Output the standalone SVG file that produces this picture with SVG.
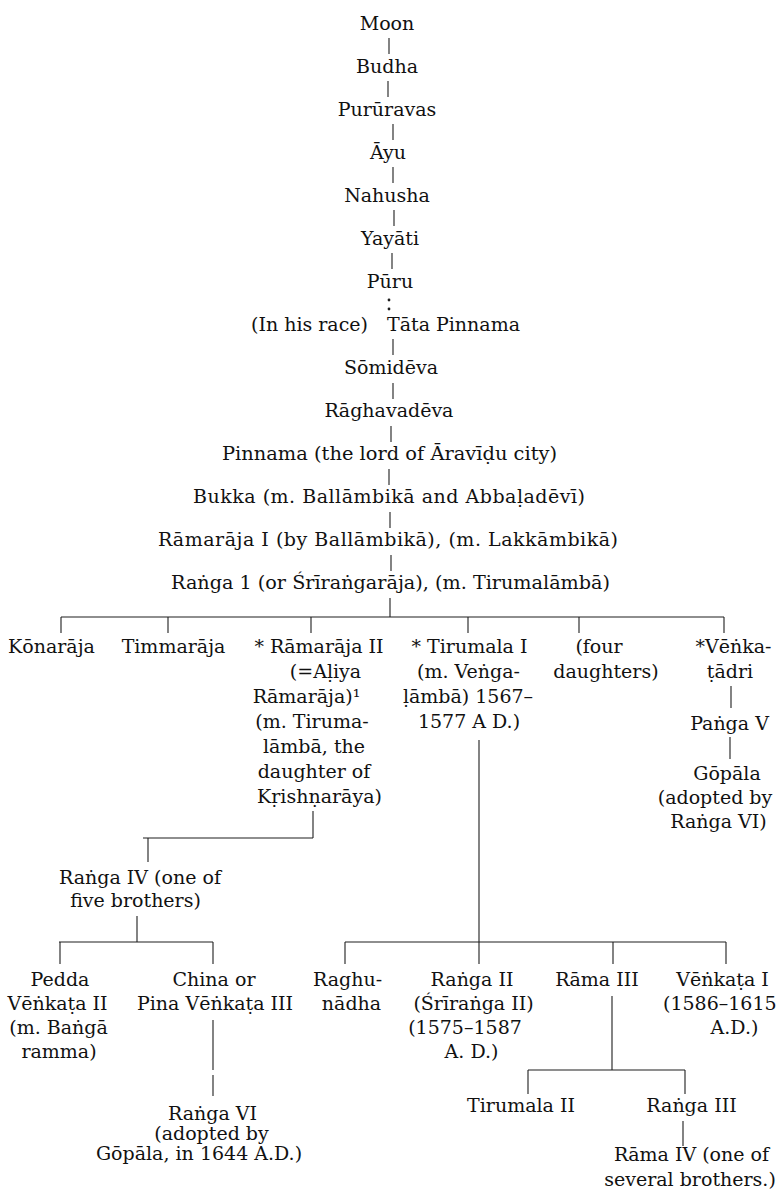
<svg xmlns="http://www.w3.org/2000/svg" width="781" height="1193" viewBox="0 0 781 1193">
<style>
text{font-family:"DejaVu Serif","Liberation Serif",serif;font-size:19px;fill:#111}
.m{text-anchor:middle}
.c line{stroke:#1e1e1e;stroke-width:1.1}
.dot{fill:#1e1e1e}
</style>
<rect width="781" height="1193" fill="#fff"/>
<g id="connectors" class="c">
<line x1="389" y1="38" x2="389" y2="54"/>
<line x1="388" y1="81" x2="388" y2="97"/>
<line x1="393" y1="124" x2="393" y2="140"/>
<line x1="393" y1="167" x2="393" y2="183"/>
<line x1="394" y1="210" x2="394" y2="226"/>
<line x1="392" y1="253" x2="392" y2="269"/>
<circle class="dot" cx="389" cy="300" r="1.4"/>
<circle class="dot" cx="389" cy="309" r="1.4"/>
<line x1="393" y1="339" x2="393" y2="355"/>
<line x1="393" y1="383" x2="393" y2="399"/>
<line x1="391" y1="426" x2="391" y2="442"/>
<line x1="389" y1="469" x2="389" y2="485"/>
<line x1="390" y1="512" x2="390" y2="528"/>
<line x1="391" y1="555" x2="391" y2="571"/>
<line x1="390" y1="598" x2="390" y2="617"/>
<line x1="61" y1="617" x2="724" y2="617"/>
<line x1="61" y1="617" x2="61" y2="633"/>
<line x1="168" y1="617" x2="168" y2="633"/>
<line x1="311" y1="617" x2="311" y2="633"/>
<line x1="468" y1="617" x2="468" y2="633"/>
<line x1="579" y1="617" x2="579" y2="633"/>
<line x1="724" y1="617" x2="724" y2="633"/>
<line x1="731" y1="686" x2="731" y2="708"/>
<line x1="730" y1="737" x2="730" y2="759"/>
<line x1="313" y1="811" x2="313" y2="838"/>
<line x1="143" y1="838" x2="313" y2="838"/>
<line x1="148" y1="838" x2="148" y2="862"/>
<line x1="137" y1="916" x2="137" y2="942"/>
<line x1="59" y1="942" x2="213" y2="942"/>
<line x1="60" y1="942" x2="60" y2="964"/>
<line x1="213" y1="942" x2="213" y2="964"/>
<line x1="479" y1="740" x2="479" y2="942"/>
<line x1="345" y1="942" x2="726" y2="942"/>
<line x1="345" y1="942" x2="345" y2="964"/>
<line x1="479" y1="942" x2="479" y2="964"/>
<line x1="613" y1="942" x2="613" y2="964"/>
<line x1="726" y1="942" x2="726" y2="964"/>
<line x1="612" y1="996" x2="612" y2="1070"/>
<line x1="528" y1="1070" x2="685" y2="1070"/>
<line x1="528" y1="1070" x2="528" y2="1094"/>
<line x1="685" y1="1070" x2="685" y2="1094"/>
<line x1="683" y1="1121" x2="683" y2="1146"/>
<line x1="213" y1="1020" x2="213" y2="1070"/>
<line x1="213" y1="1075" x2="213" y2="1096"/>
</g>
<g id="moon"><text class="m" x="387" y="30">Moon</text></g>
<g id="budha"><text class="m" x="387" y="73">Budha</text></g>
<g id="pururavas"><text class="m" x="387" y="116">Purūravas</text></g>
<g id="ayu"><text class="m" x="388" y="159">Āyu</text></g>
<g id="nahusha"><text class="m" x="387" y="202">Nahusha</text></g>
<g id="yayati"><text class="m" x="390" y="245">Yayāti</text></g>
<g id="puru"><text class="m" x="390" y="288">Pūru</text></g>
<g id="tata-pinnama"><text x="368" y="331" text-anchor="end">(In his race)</text><text x="387" y="331">Tāta Pinnama</text></g>
<g id="somideva"><text class="m" x="391" y="374">Sōmidēva</text></g>
<g id="raghavadeva"><text class="m" x="389" y="417">Rāghavadēva</text></g>
<g id="pinnama"><text class="m" x="389.5" y="460" textLength="335" lengthAdjust="spacingAndGlyphs">Pinnama (the lord of Āravīḍu city)</text></g>
<g id="bukka"><text class="m" x="389" y="503" textLength="392" lengthAdjust="spacing">Bukka (m. Ballāmbikā and Abbaḷadēvī)</text></g>
<g id="ramaraja1"><text class="m" x="388" y="546" textLength="460" lengthAdjust="spacing">Rāmarāja I (by Ballāmbikā), (m. Lakkāmbikā)</text></g>
<g id="ranga1"><text class="m" x="390.5" y="589" textLength="439" lengthAdjust="spacingAndGlyphs">Raṅga 1 (or Śrīraṅgarāja), (m. Tirumalāmbā)</text></g>
<g id="konaraja"><text class="m" x="51.5" y="653">Kōnarāja</text></g>
<g id="timmaraja"><text class="m" x="173.5" y="653">Timmarāja</text></g>
<g id="ramaraja2">
<text class="m" x="319" y="653">* Rāmarāja II</text>
<text class="m" x="325.5" y="678">(=Aḷiya</text>
<text class="m" x="306.5" y="703">Rāmarāja)¹</text>
<text class="m" x="312" y="728">(m. Tiruma-</text>
<text class="m" x="314" y="753">lāmbā, the</text>
<text class="m" x="314" y="778">daughter of</text>
<text class="m" x="319.5" y="803">Kṛishṇarāya)</text>
</g>
<g id="tirumala1">
<text class="m" x="469.5" y="653">* Tirumala I</text>
<text class="m" x="468.5" y="678">(m. Veṅga-</text>
<text class="m" x="468" y="703">ḷāmbā) 1567–</text>
<text class="m" x="469" y="728">1577 A D.)</text>
</g>
<g id="four-daughters">
<text class="m" x="599" y="653">(four</text>
<text class="m" x="606" y="678">daughters)</text>
</g>
<g id="venkatadri">
<text class="m" x="733.5" y="653">*Vēṅka-</text>
<text class="m" x="730" y="678">ṭādri</text>
</g>
<g id="panga5"><text class="m" x="729.5" y="730">Paṅga V</text></g>
<g id="gopala"><text class="m" x="727" y="780">Gōpāla</text><text class="m" x="715" y="804">(adopted by</text><text class="m" x="718.5" y="828">Raṅga VI)</text></g>
<g id="ranga4"><text class="m" x="140" y="884">Raṅga IV (one of</text><text class="m" x="135.5" y="907">five brothers)</text></g>
<g id="pedda-venkata2">
<text class="m" x="60" y="986">Pedda</text>
<text class="m" x="57.5" y="1010">Vēṅkaṭa II</text>
<text class="m" x="58.5" y="1034">(m. Baṅgā</text>
<text class="m" x="59" y="1058">ramma)</text>
</g>
<g id="pina-venkata3">
<text class="m" x="214" y="986">China  or</text>
<text class="m" x="215" y="1010">Pina Vēṅkaṭa III</text>
</g>
<g id="ranga6">
<text class="m" x="212.5" y="1120">Raṅga VI</text>
<text class="m" x="211.5" y="1140">(adopted by</text>
<text class="m" x="199" y="1160">Gōpāla, in 1644 A.D.)</text>
</g>
<g id="raghunadha"><text class="m" x="347.5" y="986">Raghu-</text><text class="m" x="351.5" y="1010">nādha</text></g>
<g id="ranga2">
<text class="m" x="472" y="986">Raṅga II</text>
<text class="m" x="473.5" y="1010">(Śrīraṅga II)</text>
<text class="m" x="465" y="1034">(1575–1587</text>
<text class="m" x="471.5" y="1058">A. D.)</text>
</g>
<g id="rama3"><text class="m" x="597" y="986">Rāma III</text></g>
<g id="venkata1">
<text class="m" x="722.5" y="986">Vēṅkaṭa I</text>
<text x="663" y="1010">(1586–1615</text>
<text class="m" x="734.5" y="1034">A.D.)</text>
</g>
<g id="tirumala2"><text class="m" x="521" y="1112">Tirumala II</text></g>
<g id="ranga3"><text class="m" x="691.5" y="1112">Raṅga III</text></g>
<g id="rama4"><text class="m" x="691.5" y="1161">Rāma IV (one of</text><text class="m" x="690" y="1186">several brothers.)</text></g>
</svg>
